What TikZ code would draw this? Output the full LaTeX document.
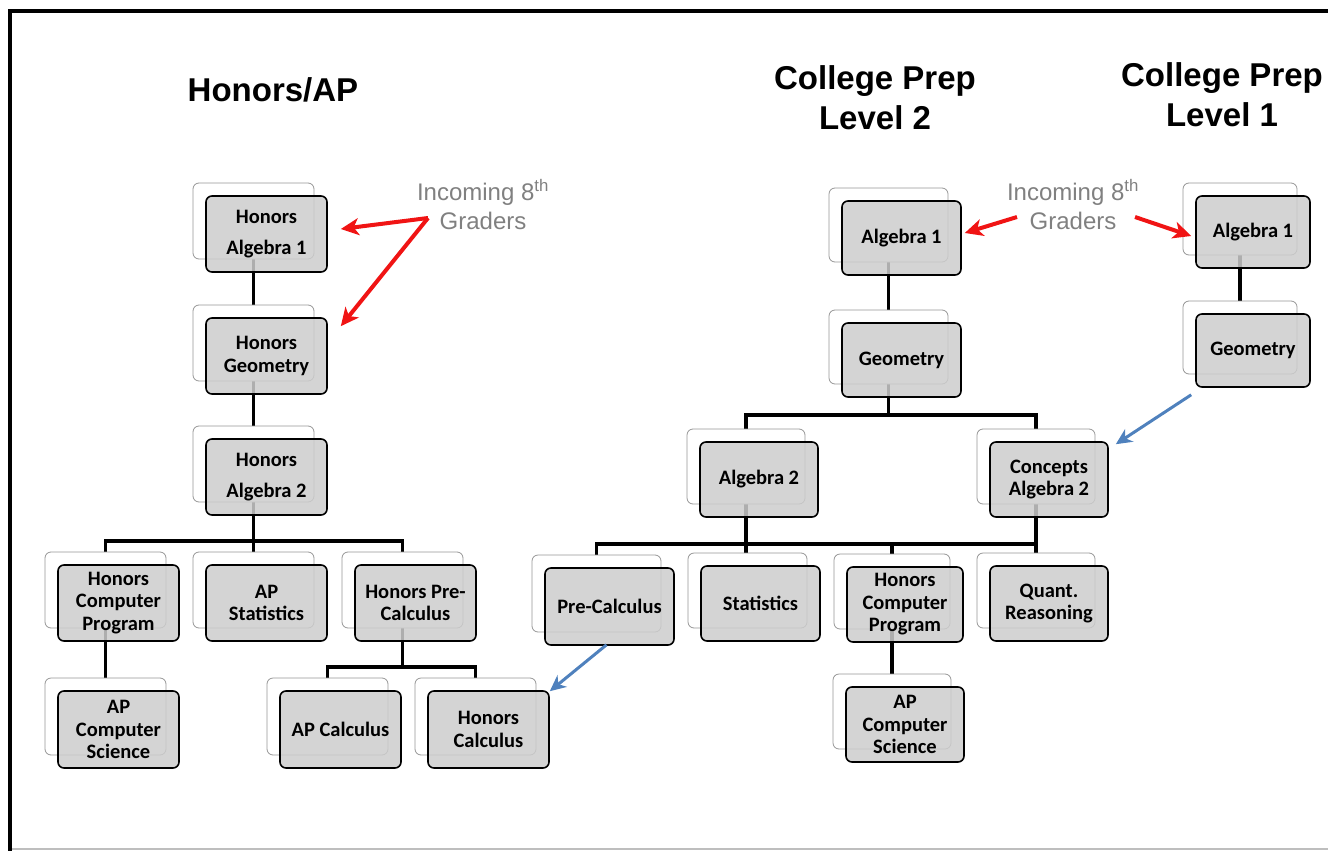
\documentclass[tikz,border=0pt]{standalone}
\usepackage{fontspec}
\setmainfont{Liberation Sans}
\newfontfamily\boxfont{Carlito}
\usetikzlibrary{backgrounds,arrows.meta,calc}
\definecolor{boxgray}{RGB}{205,205,205}
\definecolor{backedge}{RGB}{150,150,150}
\definecolor{redarrow}{RGB}{240,20,20}
\definecolor{bluearrow}{RGB}{79,129,189}
\definecolor{labelgray}{RGB}{128,128,128}
\definecolor{framegray}{RGB}{190,190,190}
\tikzset{
 backbox/.style={draw=backedge, line width=0.8pt, fill=white, rounded corners=6pt, inner sep=0pt},
 frontbox/.style={draw=black, line width=1.6pt, fill=boxgray, fill opacity=0.85, text opacity=1, draw opacity=1, rounded corners=6pt, inner sep=1pt, align=center, font=\boxfont\bfseries\fontsize{20.5}{22.5}\selectfont},
 conn/.style={line width=3.5pt, black},
 redarr/.style={line width=4pt, redarrow, -{Stealth[length=18pt,width=17pt,inset=5pt]}},
 bluearr/.style={line width=3pt, bluearrow, -{Stealth[length=16pt,width=15pt,inset=5pt]}},
 header/.style={font=\bfseries\fontsize{33}{40}\selectfont, align=center},
 incoming/.style={text=labelgray, font=\fontsize{24}{29}\selectfont, align=center},
}
\newcommand\course[6]{%
 \node[backbox, minimum width=#4pt, minimum height=#5pt] (#1) at ($(#2,#3)+(-13,-13)$) {};
 \node[frontbox, minimum width=#4pt, minimum height=#5pt] (#1f) at (#2,#3) {#6};}
\begin{document}
\begin{tikzpicture}[x=1pt,y=-1pt]
\useasboundingbox (0,0) rectangle (1328,851);
% frame
\draw[framegray, line width=1.5pt] (10,849) -- (1328,849);
\draw[black, line width=4pt] (10,851) -- (10,11) -- (1328,11);
% headers
\node[header] (hdrA) at (273,90) {Honors/AP};
\node[header] (hdrB) at (875,98) {College Prep\\Level 2};
\node[header] (hdrC) at (1222,95) {College Prep\\Level 1};
\node[incoming] (incL) at (483,205) {Incoming 8\textsuperscript{th}\\Graders};
\node[incoming] (incM) at (1073,205) {Incoming 8\textsuperscript{th}\\Graders};
% left column
\course{hA1}{266.5}{234}{121}{76}{Honors\\[8pt]Algebra 1}
\course{hG}{266.5}{356}{121}{76}{Honors\\Geometry}
\course{hA2}{266.5}{477}{121}{76}{Honors\\[8pt]Algebra 2}
\course{hCP}{118.5}{603}{121}{76}{Honors\\Computer\\Program}
\course{apS}{266.5}{603}{121}{76}{AP\\Statistics}
\course{hPC}{415.5}{603}{121}{76}{Honors Pre-\\Calculus}
\course{apCS}{118.5}{729.5}{121}{77}{AP\\Computer\\Science}
\course{apC}{340.5}{729.5}{121}{77}{AP Calculus}
\course{hC}{488.5}{729.5}{121}{77}{Honors\\Calculus}
% middle column
\course{mA1}{901.5}{238}{119}{74}{Algebra 1}
\course{mG}{901.5}{360}{119}{74}{Geometry}
\course{mA2}{759}{479.5}{118}{75}{Algebra 2}
\course{mCA2}{1049}{479.5}{118}{75}{Concepts\\Algebra 2}
\course{mPC}{609.5}{606.5}{129}{77}{Pre-Calculus}
\course{mS}{760.5}{603.5}{119}{75}{Statistics}
\course{mHCP}{905}{604.5}{116}{75}{Honors\\Computer\\Program}
\course{mQ}{1049}{603.5}{118}{75}{Quant.\\Reasoning}
\course{mAPCS}{905}{724.5}{118}{75}{AP\\Computer\\Science}
% right column
\course{rA1}{1253}{232}{114}{72}{Algebra 1}
\course{rG}{1253}{350.5}{114}{73}{Geometry}
% connectors
\begin{pgfonlayer}{background}
\coordinate (barL) at (0,541);
\coordinate (barPC) at (0,667);
\coordinate (barM1) at (0,415);
\coordinate (barM2) at (0,544);
\draw[conn] (hA1.south) -- (hG.north);
\draw[conn] (hG.south) -- (hA2.north);
\draw[conn] (hA2.south) -- (hA2.south |- barL);
\draw[conn] (hCP.north) |- (barL -| hPC.north) -- (hPC.north);
\draw[conn] (apS.north) -- (apS.north |- barL);
\draw[conn] (hCP.south) -- (apCS.north);
\draw[conn] (hPC.south) -- (hPC.south |- barPC);
\draw[conn] (apC.north) |- (barPC -| hC.north) -- (hC.north);
\draw[conn] (mA1.south) -- (mG.north);
\draw[conn] (mG.south) -- (mG.south |- barM1);
\draw[conn] (mA2.north) |- (barM1 -| mCA2.north) -- (mCA2.north);
\draw[conn] (mA2.south) -- (mA2.south |- mS.north);
\draw[conn] (mCA2.south) -- (mQ.north);
\draw[conn] (mPC.north) |- (barM2 -| mQ.north);
\draw[conn] (mHCP.north) -- (mHCP.north |- barM2);
\draw[conn] (mHCP.south) -- (mAPCS.north);
\draw[conn] (rA1.south) -- (rG.north);
\end{pgfonlayer}
% arrows
\coordinate (sL) at (428,218);
\coordinate (sM1) at (1017,217);
\coordinate (sM2) at (1135,217);
\draw[redarr] (sL) -- ([xshift=13pt,yshift=5pt]hA1f.east);
\draw[redarr] (sL) -- ([xshift=13pt,yshift=-9pt]hGf.north east);
\draw[redarr] (sM1) -- ([xshift=3pt,yshift=5pt]mA1f.east);
\draw[redarr] (sM2) -- ([xshift=-4pt,yshift=-4pt]rA1f.west);
\draw[bluearr] ([xshift=-4pt,yshift=-7pt]rGf.south west) -- ([xshift=7pt,yshift=-3pt]mCA2f.north east);
\draw[bluearr] ([xshift=-3pt,yshift=1pt]mPCf.south) -- ([xshift=0pt,yshift=-1pt]hCf.north east);
\end{tikzpicture}
\end{document}
